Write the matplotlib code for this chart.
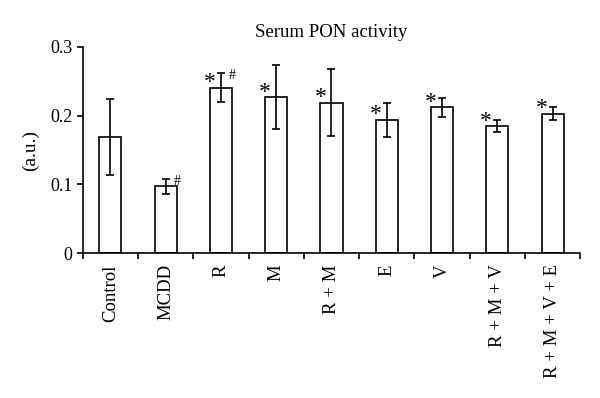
import matplotlib
matplotlib.use("Agg")
import matplotlib.pyplot as plt
import numpy as np

plt.rcParams['font.family'] = ['Liberation Serif', 'DejaVu Serif']

groups = ['Control', 'MCDD', 'R', 'M', 'R + M', 'E', 'V', 'R + M + V', 'R + M + V + E']
means = [0.169, 0.097, 0.241, 0.227, 0.219, 0.194, 0.212, 0.185, 0.203]
errs = [0.055, 0.011, 0.021, 0.047, 0.049, 0.025, 0.014, 0.009, 0.010]
star = [False, False, True, True, True, True, True, True, True]
hash_mark = [False, True, True, False, False, False, False, False, False]

fig = plt.figure(figsize=(6, 3.98), dpi=100)
ax = fig.add_axes([0.138, 0.364, 0.829, 0.518])

x = np.arange(len(groups))
ax.bar(x, means, width=0.4, color='white', edgecolor='black', linewidth=1.2,
       yerr=errs, error_kw=dict(ecolor='black', elinewidth=1.2, capsize=3, capthick=1.2))

# significance marks
for i in range(len(groups)):
    if star[i]:
        ax.annotate('*', xy=(i - 0.2, means[i]), xytext=(0, -4), textcoords='offset points',
                    ha='center', va='bottom', fontsize=17)
    if hash_mark[i]:
        ax.annotate('#', xy=(i + 0.21, means[i] + errs[i]), xytext=(0, -2), textcoords='offset points',
                    ha='center', va='center', fontsize=10)

ax.set_xlim(-0.5, len(groups) - 0.5)
ax.set_ylim(0, 0.3)
ax.set_yticks([0, 0.1, 0.2, 0.3])
ax.set_yticklabels(['0', '0.1', '0.2', '0.3'])

ax.set_xticks(np.arange(len(groups) + 1) - 0.5)
ax.set_xticklabels([])
ax.set_xticks(x, minor=True)
ax.set_xticklabels(groups, minor=True, rotation=90)
ax.tick_params(axis='x', which='minor', length=0, pad=8, labelsize=13.5)
ax.tick_params(axis='x', which='major', length=4, width=1.2, direction='out')
ax.tick_params(axis='y', length=4, width=1.2, direction='out', labelsize=13)

ax.spines['top'].set_visible(False)
ax.spines['right'].set_visible(False)
ax.spines['left'].set_linewidth(1.2)
ax.spines['bottom'].set_linewidth(1.2)

ax.set_ylabel('(a.u.)', fontsize=14, labelpad=8)
ax.set_title('Serum PON activity', fontsize=13.5, pad=7)

fig.savefig('out.png', dpi=100)
